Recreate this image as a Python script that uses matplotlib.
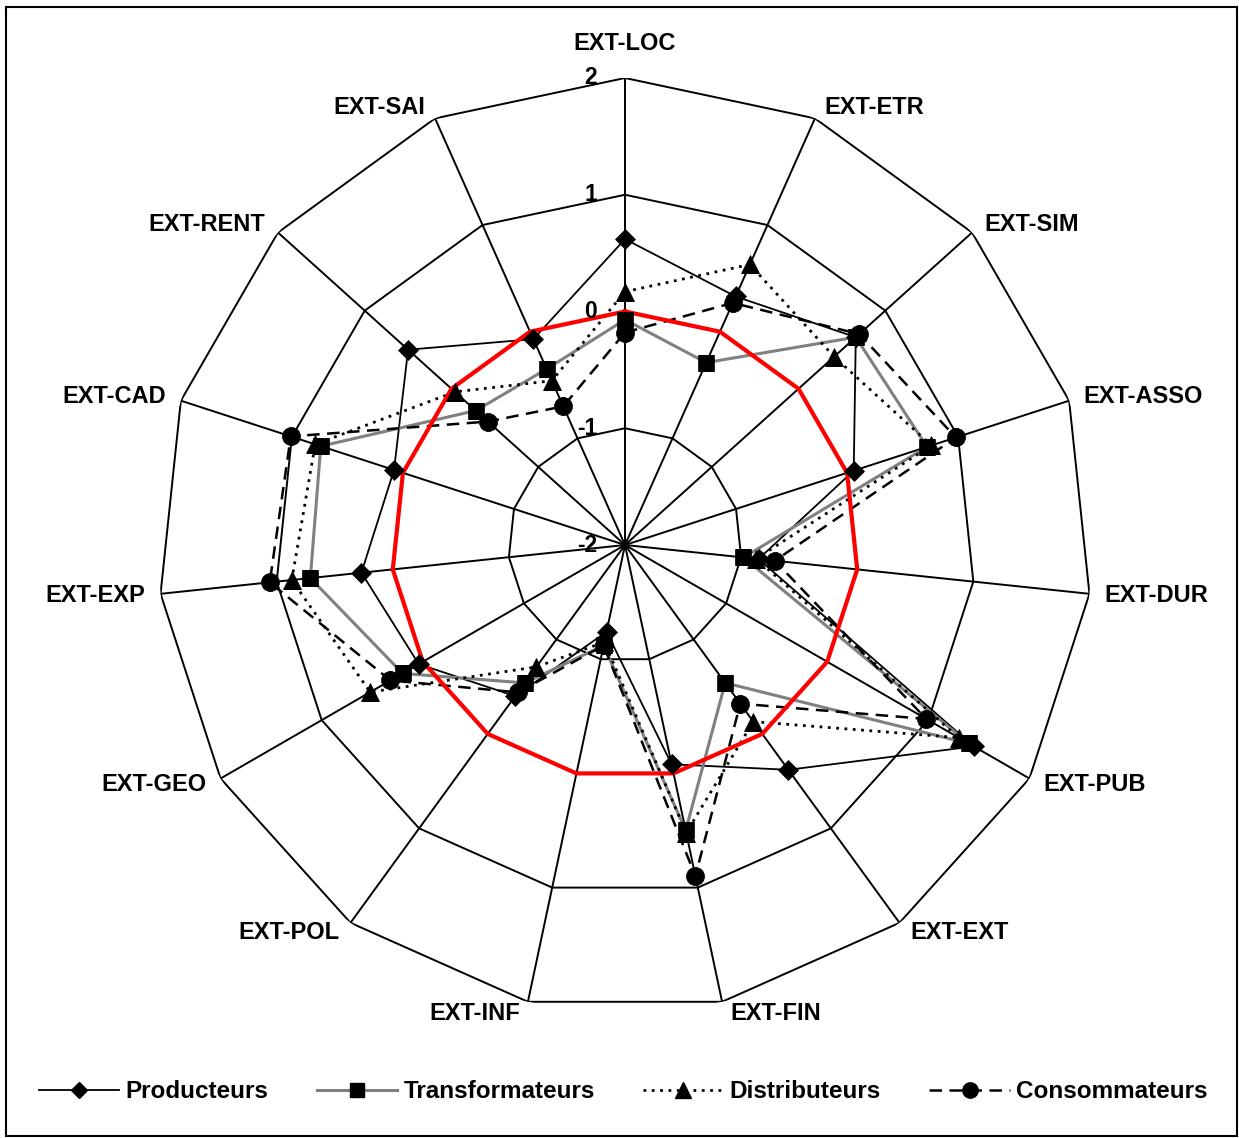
import numpy as np
import matplotlib
matplotlib.use("Agg")
import matplotlib.pyplot as plt
from matplotlib.lines import Line2D
from matplotlib.patches import Rectangle

plt.rcParams['font.family'] = ['Liberation Sans', 'DejaVu Sans']

categories = ["EXT-LOC", "EXT-ETR", "EXT-SIM", "EXT-ASSO", "EXT-DUR", "EXT-PUB",
              "EXT-EXT", "EXT-FIN", "EXT-INF", "EXT-POL", "EXT-GEO", "EXT-EXP",
              "EXT-CAD", "EXT-RENT", "EXT-SAI"]

producteurs     = [0.62, 0.33, 0.66, 0.06, -0.85, 1.45, 0.38, -0.08, -1.24, -0.40, 0.04, 0.27, 0.08, 0.50, -0.07]
transformateurs = [-0.07, -0.29, 0.66, 0.72, -0.98, 1.40, -0.54, 0.50, -1.12, -0.54, 0.20, 0.71, 0.74, -0.28, -0.35]
distributeurs   = [0.17, 0.63, 0.41, 0.76, -0.87, 1.30, -0.13, 0.52, -1.15, -0.71, 0.52, 0.87, 0.79, -0.04, -0.46]
consommateurs   = [-0.18, 0.27, 0.70, 0.98, -0.71, 0.98, -0.32, 0.90, -1.12, -0.44, 0.32, 1.06, 1.01, -0.42, -0.70]
reference_zero  = [0.0] * 15

series_names = ["Producteurs", "Transformateurs", "Distributeurs", "Consommateurs"]
tick_values = [-2, -1, 0, 1, 2]
tick_labels = ["-2", "-1", "0", "1", "2"]

W, H = 1239, 1138
fig = plt.figure(figsize=(W / 100, H / 100), dpi=100)
fig.patch.set_facecolor("white")

cx, cy, R = 625, 545, 467
ax = fig.add_axes([(cx - R) / W, (H - cy - R) / H, 2 * R / W, 2 * R / H], projection="polar")
ax.set_theta_zero_location("N")
ax.set_theta_direction(-1)
ax.set_ylim(-2, 2)
ax.set_xticks([])
ax.set_yticks([])
ax.grid(False)
ax.spines["polar"].set_visible(False)
ax.patch.set_alpha(0)

n = len(categories)
theta = np.arange(n) * 2 * np.pi / n
theta_c = np.append(theta, theta[0])

def close(v):
    return np.append(np.asarray(v, dtype=float), v[0])

# grid polygons
for lv in tick_values[1:]:
    ax.plot(theta_c, np.full(n + 1, lv), color="black", lw=1.4, zorder=1)
for t in theta:
    ax.plot([t, t], [-2, 2], color="black", lw=1.4, zorder=1)

styles = [
    dict(color="black", lw=1.3, ls="-", marker="D", ms=10),
    dict(color="#808080", lw=2.2, ls="-", marker="s", ms=12),
    dict(color="black", lw=2.0, ls=(0, (1, 2)), marker="^", ms=13),
    dict(color="black", lw=1.8, ls=(0, (5, 3)), marker="o", ms=13),
]
data = [producteurs, transformateurs, distributeurs, consommateurs]

for vals, st in zip(data, styles):
    ax.plot(theta_c, close(vals), color=st["color"], lw=st["lw"], ls=st["ls"], zorder=3)

ax.plot(theta_c, close(reference_zero), color="#ff0000", lw=3.0, zorder=4)

for vals, st in zip(data, styles):
    ax.plot(theta, vals, ls="none", marker=st["marker"], ms=st["ms"],
            color="black", mec="black", mew=0.5, zorder=5)

# category labels
for k, (t, lab) in enumerate(zip(theta, categories)):
    s, c = np.sin(t), np.cos(t)
    if k == 0:
        ax.annotate(lab, xy=(t, 2), xytext=(0, 34), textcoords="offset pixels",
                    ha="center", va="center", fontsize=17, fontweight="bold")
    else:
        dx = np.sign(s) * (6 + 9 * abs(s))
        dy = 12 * c
        ax.annotate(lab, xy=(t, 2), xytext=(dx, dy), textcoords="offset pixels",
                    ha="left" if s > 0 else "right", va="center",
                    fontsize=17, fontweight="bold")

# radial tick labels
for v, lab in zip(tick_values, tick_labels):
    ax.annotate(lab, xy=(0, v), xytext=(-28, 0), textcoords="offset pixels",
                ha="right", va="center", fontsize=16.5, fontweight="bold", zorder=6)

# legend
handles = []
for name, st in zip(series_names, styles):
    handles.append(Line2D([], [], color=st["color"], lw=st["lw"], ls=st["ls"],
                          marker=st["marker"], ms=st["ms"] * 0.85,
                          mfc="black", mec="black", label=name))
leg = fig.legend(handles=handles, loc="center", bbox_to_anchor=(0.503, 1 - 1092 / H),
                 ncol=4, frameon=False, handlelength=3.3, handletextpad=0.25,
                 columnspacing=2.0, prop=dict(size=17.5, weight="bold"))

# outer frame
fig.add_artist(Rectangle((6 / W, 2 / H), (1237 - 6) / W, (H - 7 - 2) / H,
                         transform=fig.transFigure, fill=False, edgecolor="black", lw=1.5))

fig.savefig("out.png", dpi=100, facecolor="white")
